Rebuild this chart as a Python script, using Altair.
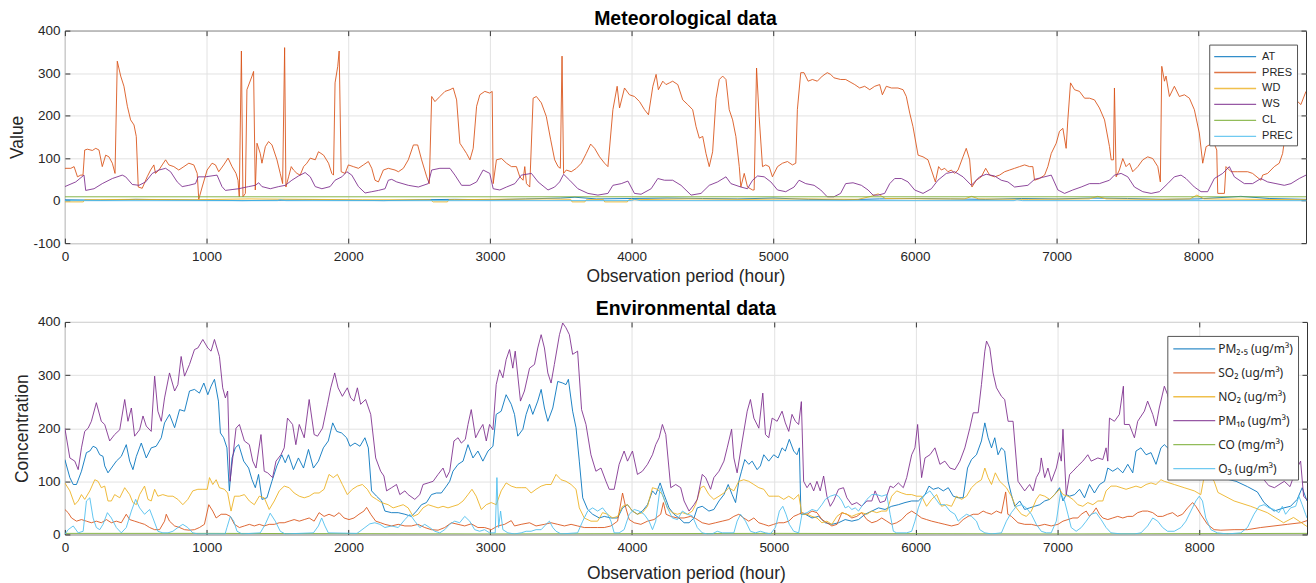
import altair as alt
import pandas as pd

FONT = "Liberation Sans, Arial, Helvetica, sans-serif"
SUB_FONT = "Noto Sans, DejaVu Sans, sans-serif"
X_MAX = 8760
X_TICKS = [0, 1000, 2000, 3000, 4000, 5000, 6000, 7000, 8000]
MET_Y_TICKS = [-100, 0, 100, 200, 300, 400]
ENV_Y_TICKS = [0, 100, 200, 300, 400]

MET_NAMES = ["AT", "PRES", "WD", "WS", "CL", "PREC"]
ENV_NAMES = ["PM\u2082.\u2085 (ug/m\u00b3)", "SO\u2082 (ug/m\u00b3)", "NO\u2082 (ug/m\u00b3)",
             "PM\u2081\u2080 (ug/m\u00b3)", "CO (mg/m\u00b3)", "O\u2083 (ug/m\u00b3)"]
COLORS = ["#0072BD", "#D95319", "#EDB120", "#7E2F8E", "#77AC30", "#4DBEEE"]
MET_WIDTHS = [1, 1, 1, 1, 1.6, 2.4]
ENV_WIDTHS = [1, 1, 1, 1, 2, 1]

# ---------------- Meteorological data: (hour, value) ----------------
AT = [(0,2),(250,1),(500,3),(750,2),(1000,1),(1250,0),(1500,1),(1750,2),(2000,1),(2250,0),(2500,2),
      (2750,3),(3000,2),(3250,4),(3500,6),(3600,8),(3750,4),(4000,5),(4250,6),(4500,5),(4750,4),(5000,6),
      (5250,3),(5500,2),(5750,4),(6000,5),(6250,4),(6500,3),(6750,5),(7000,4),(7250,6),(7500,5),(7750,3),
      (8000,4),(8300,10),(8500,5),(8760,3)]

PRES = [(0,76),(42,76),(65,80),(89,56),(112,60),(128,60),(140,119),(159,121),(194,118),(218,123),(241,119),
        (264,80),(288,107),(311,103),(335,88),(354,64),(370,328),(394,293),(417,269),(441,222),(464,190),
        (488,178),(504,151),(518,32),(546,29),(581,56),(605,72),(628,84),(640,64),(664,72),(687,84),(711,96),
        (734,84),(769,80),(804,72),(840,80),(875,88),(910,84),(934,64),(945,3),(969,32),(1004,72),(1039,88),
        (1063,84),(1086,68),(1121,84),(1152,100),(1180,80),(1208,64),(1222,48),(1231,9),(1246,352),(1257,9),
        (1274,17),(1285,261),(1321,293),(1332,304),(1344,25),(1356,135),(1379,111),(1391,88),(1415,127),
        (1438,139),(1462,131),(1497,96),(1520,64),(1537,40),(1551,360),(1560,32),(1579,56),(1598,80),(1614,72),
        (1638,64),(1661,60),(1685,80),(1708,88),(1732,100),(1767,96),(1790,115),(1826,107),(1861,88),(1884,64),
        (1896,60),(1907,277),(1926,316),(1936,352),(1950,68),(1978,64),(2001,84),(2036,80),(2072,76),(2107,84),
        (2142,92),(2166,76),(2189,48),(2213,44),(2248,72),(2283,76),(2330,72),(2354,68),(2389,76),(2424,96),
        (2460,131),(2490,131),(2518,96),(2554,56),(2572,40),(2589,245),(2612,233),(2647,245),(2683,257),
        (2718,261),(2741,265),(2765,237),(2788,135),(2812,123),(2835,111),(2859,96),(2882,123),(2906,222),
        (2929,249),(2964,257),(2999,253),(3016,257),(3023,40),(3046,96),(3082,99),(3117,88),(3152,80),
        (3187,80),(3211,56),(3234,48),(3246,80),(3258,40),(3281,32),(3305,241),(3328,245),(3363,230),
        (3398,198),(3429,143),(3457,96),(3481,80),(3497,76),(3509,340),(3520,64),(3539,72),(3574,68),
        (3610,76),(3645,88),(3680,111),(3711,133),(3739,123),(3774,103),(3809,88),(3833,80),(3868,214),
        (3898,269),(3915,218),(3950,265),(3985,249),(4020,245),(4056,233),(4091,214),(4119,202),(4150,269),
        (4173,297),(4189,261),(4220,281),(4243,273),(4267,277),(4290,281),(4326,273),(4361,237),(4396,226),
        (4431,214),(4455,174),(4478,147),(4502,151),(4525,111),(4548,80),(4572,115),(4596,241),(4619,285),
        (4643,293),(4666,285),(4689,214),(4713,190),(4736,151),(4760,80),(4771,32),(4795,64),(4818,32),
        (4854,25),(4865,25),(4882,312),(4900,198),(4924,80),(4947,84),(4971,80),(4994,56),(5030,80),(5065,88),
        (5100,92),(5135,84),(5159,88),(5170,214),(5194,301),(5217,301),(5246,281),(5276,285),(5311,281),
        (5346,293),(5381,301),(5405,297),(5428,289),(5475,285),(5511,285),(5575,273),(5610,265),(5645,269),
        (5681,261),(5716,269),(5751,273),(5770,249),(5798,269),(5834,265),(5880,265),(5916,261),(5939,245),
        (5963,206),(5986,174),(6022,107),(6057,103),(6092,96),(6116,72),(6144,44),(6167,80),(6186,72),
        (6210,76),(6233,68),(6257,72),(6280,64),(6304,72),(6339,103),(6362,123),(6386,96),(6402,32),(6433,48),
        (6468,56),(6499,76),(6527,60),(6562,56),(6597,60),(6633,68),(6668,72),(6703,76),(6738,80),(6774,84),
        (6809,80),(6832,80),(6844,48),(6879,52),(6915,60),(6938,80),(6962,111),(6997,135),(7020,163),
        (7044,170),(7067,123),(7079,190),(7098,277),(7126,261),(7161,257),(7197,241),(7232,241),(7267,237),
        (7302,218),(7338,190),(7373,127),(7385,96),(7401,96),(7408,265),(7420,56),(7443,72),(7467,99),
        (7490,80),(7514,88),(7537,68),(7573,80),(7608,96),(7643,103),(7678,99),(7714,80),(7732,44),(7742,316),
        (7761,281),(7772,293),(7796,245),(7831,269),(7866,245),(7902,249),(7937,241),(7972,214),(8007,159),
        (8031,88),(8055,127),(8078,131),(8105,140),(8130,119),(8137,17),(8184,17),(8195,80),(8231,68),
        (8278,68),(8348,68),(8383,64),(8442,48),(8454,60),(8489,64),(8536,80),(8571,88),(8595,111),(8618,166),
        (8650,200),(8689,237),(8724,226),(8760,257)]

WD = [(0,-3),(130,-3),(140,2),(500,3),(900,2),(1300,4),(1700,3),(2100,2),(2580,2),(2600,-3),(2700,-3),
      (2710,2),(3000,3),(3400,4),(3570,3),(3580,-3),(3670,-3),(3680,2),(3800,3),(3810,-3),(3970,-3),
      (3980,2),(4400,4),(4800,3),(5200,4),(5600,3),(5690,10),(5740,16),(5790,5),(6100,4),(6350,4),
      (6400,10),(6450,4),(6800,3),(7230,4),(7290,10),(7350,4),(7700,3),(7940,4),(7990,13),(8040,4),
      (8400,3),(8760,2)]

WS = [(0,33),(77,44),(135,60),(147,24),(206,28),(264,40),(335,52),(405,60),(429,56),(476,38),(523,36),
      (570,44),(617,64),(664,72),(711,76),(746,68),(793,44),(828,33),(875,36),(922,40),(941,56),(992,56),
      (1074,60),(1109,33),(1133,24),(1180,26),(1227,28),(1297,33),(1344,36),(1368,42),(1391,33),(1450,28),
      (1509,33),(1556,36),(1602,48),(1649,58),(1696,66),(1732,56),(1767,33),(1814,28),(1872,33),(1907,48),
      (1955,56),(1990,68),(2025,60),(2072,33),(2119,18),(2166,21),(2213,24),(2260,28),(2283,48),(2307,50),
      (2342,44),(2424,36),(2495,32),(2565,40),(2589,72),(2647,76),(2718,76),(2753,60),(2800,36),(2859,36),
      (2906,44),(2952,72),(2999,64),(3023,28),(3070,25),(3117,32),(3176,40),(3222,60),(3293,64),(3340,44),
      (3410,25),(3457,32),(3492,44),(3520,62),(3563,48),(3621,28),(3692,17),(3762,13),(3833,17),(3868,36),
      (3927,40),(3974,46),(4020,17),(4067,15),(4138,28),(4185,52),(4232,48),(4290,48),(4349,36),(4420,13),
      (4490,17),(4548,36),(4607,44),(4666,56),(4701,40),(4771,32),(4818,28),(4854,48),(4889,58),(4936,56),
      (4983,44),(5030,25),(5088,21),(5147,32),(5182,48),(5229,40),(5288,36),(5335,25),(5381,9),(5428,9),
      (5475,17),(5511,40),(5563,42),(5622,36),(5669,25),(5704,13),(5740,13),(5786,17),(5822,40),(5857,52),
      (5904,52),(5951,44),(5998,25),(6057,17),(6116,28),(6162,48),(6221,64),(6280,68),(6339,56),(6398,36),
      (6456,56),(6503,62),(6562,58),(6609,48),(6656,44),(6703,32),(6797,36),(6844,50),(6903,55),(6962,60),
      (7009,25),(7056,17),(7114,25),(7173,32),(7232,40),(7302,40),(7373,48),(7408,60),(7455,64),(7502,56),
      (7549,32),(7608,21),(7667,17),(7725,21),(7784,40),(7831,56),(7878,60),(7913,52),(7972,32),(8019,21),
      (8066,21),(8113,52),(8172,64),(8219,80),(8254,56),(8325,40),(8383,40),(8442,52),(8489,44),(8548,40),
      (8607,36),(8654,40),(8712,52),(8760,60)]

CL = [(0,9),(2000,9),(4000,9),(6000,9),(8760,9)]

PREC = [(0,0),(1500,0),(1520,2),(1560,0),(4000,0),(4020,3),(4060,0),(6700,0),(6720,2),(6760,0),(8760,0)]

# ---------------- Environmental data: (hour, concentration) ----------------
PM25 = [(0,141),(35,107),(59,94),(82,94),(117,119),(152,154),(176,157),(199,166),(222,163),(246,150),(269,147),
        (281,129),(304,116),(328,125),(363,138),(398,147),(433,169),(457,138),(480,122),(504,147),(539,172),
        (574,144),(609,163),(644,166),(680,182),(703,210),(738,226),(774,201),(809,235),(844,232),(879,270),
        (914,273),(949,266),(980,285),(1008,263),(1031,279),(1055,292),(1083,251),(1097,191),(1120,182),
        (1143,163),(1160,82),(1179,144),(1202,163),(1226,169),(1261,138),(1296,125),(1320,103),(1343,88),
        (1366,113),(1390,66),(1425,69),(1460,100),(1495,129),(1530,150),(1554,135),(1577,150),(1612,122),
        (1647,144),(1683,125),(1718,160),(1753,125),(1788,138),(1823,163),(1858,176),(1889,210),(1917,194),
        (1952,191),(1987,182),(2011,166),(2046,172),(2081,166),(2116,182),(2140,163),(2163,82),(2198,72),
        (2233,63),(2257,44),(2304,41),(2351,41),(2398,38),(2444,34),(2480,44),(2515,56),(2550,60),(2585,75),
        (2620,78),(2655,78),(2691,91),(2714,100),(2737,119),(2773,132),(2808,138),(2843,169),(2878,144),
        (2913,157),(2948,138),(2984,157),(3019,166),(3042,226),(3077,232),(3112,263),(3148,245),(3171,226),
        (3194,185),(3230,198),(3253,226),(3277,245),(3300,226),(3335,251),(3359,273),(3382,238),(3406,213),
        (3441,238),(3476,288),(3511,285),(3534,282),(3551,292),(3581,232),(3605,201),(3628,138),(3652,69),
        (3687,47),(3722,38),(3769,31),(3804,34),(3851,31),(3898,31),(3933,50),(3968,56),(4003,44),(4038,38),
        (4073,44),(4109,56),(4144,82),(4167,75),(4198,97),(4226,75),(4261,50),(4296,38),(4331,31),(4367,22),
        (4402,22),(4437,31),(4460,50),(4495,53),(4542,44),(4577,47),(4613,63),(4648,75),(4678,94),(4706,75),
        (4730,60),(4753,100),(4772,119),(4795,141),(4823,132),(4847,138),(4882,122),(4905,129),(4929,150),
        (4964,138),(4999,150),(5030,144),(5058,163),(5081,157),(5109,179),(5140,157),(5163,150),(5180,163),
        (5191,38),(5222,38),(5269,31),(5316,34),(5363,22),(5409,19),(5456,22),(5503,28),(5550,25),(5597,28),
        (5644,38),(5691,44),(5738,50),(5784,47),(5831,53),(5878,56),(5925,60),(5972,63),(6019,63),(6066,75),
        (6094,91),(6124,85),(6160,88),(6195,82),(6230,88),(6265,72),(6300,69),(6335,69),(6366,125),(6394,141),
        (6429,150),(6464,176),(6488,210),(6511,182),(6535,163),(6558,182),(6581,150),(6605,163),(6628,157),
        (6652,100),(6675,75),(6699,53),(6734,63),(6769,47),(6804,50),(6839,53),(6875,56),(6910,63),(6945,66),
        (6980,75),(7015,88),(7039,63),(7062,75),(7086,72),(7121,75),(7156,85),(7191,69),(7226,94),(7261,78),
        (7297,94),(7332,100),(7355,125),(7390,119),(7425,125),(7461,116),(7496,132),(7531,116),(7554,157),
        (7589,163),(7625,150),(7660,154),(7695,132),(7730,163),(7754,169),(7777,163),(7830,150),(7900,140),
        (7960,155),(8020,130),(8100,115),(8180,105),(8260,100),(8340,90),(8410,80),(8457,60),(8527,44),
        (8597,50),(8644,53),(8691,66),(8726,88),(8760,63)]

SO2 = [(0,47),(23,41),(47,31),(82,25),(117,28),(152,25),(187,22),(222,25),(257,22),(293,28),(328,22),(363,25),
       (398,22),(433,38),(457,28),(492,25),(527,22),(562,19),(598,13),(633,9),(668,9),(703,25),(715,38),
       (738,25),(774,16),(809,13),(844,9),(879,8),(914,9),(949,13),(984,19),(1015,56),(1043,44),(1067,31),
       (1102,38),(1137,38),(1167,34),(1196,19),(1231,13),(1266,16),(1301,19),(1336,16),(1371,19),(1406,16),
       (1441,19),(1477,19),(1512,22),(1547,22),(1582,25),(1617,28),(1653,25),(1688,28),(1723,31),(1758,25),
       (1793,41),(1828,34),(1863,38),(1899,34),(1934,41),(1969,31),(2004,28),(2039,31),(2074,38),(2109,44),
       (2128,51),(2157,38),(2192,25),(2227,22),(2257,19),(2304,16),(2351,19),(2398,16),(2444,16),(2491,19),
       (2538,13),(2585,9),(2632,8),(2679,13),(2726,22),(2773,19),(2820,16),(2866,20),(2913,13),(2960,13),
       (3007,9),(3054,16),(3101,19),(3148,26),(3171,16),(3218,19),(3277,22),(3323,16),(3382,19),(3429,22),
       (3476,19),(3523,16),(3570,19),(3616,16),(3663,13),(3710,13),(3757,13),(3804,13),(3851,16),(3898,25),
       (3933,78),(3956,50),(3980,28),(4015,22),(4062,19),(4109,25),(4155,28),(4202,38),(4221,60),(4240,38),
       (4273,34),(4320,31),(4367,31),(4413,34),(4448,30),(4495,22),(4542,19),(4589,22),(4636,25),(4683,28),
       (4718,34),(4753,38),(4788,31),(4823,25),(4859,31),(4894,22),(4929,19),(4964,16),(4999,19),(5034,22),
       (5070,22),(5105,25),(5140,34),(5175,38),(5198,41),(5234,38),(5269,44),(5304,41),(5339,28),(5374,22),
       (5409,16),(5445,19),(5480,41),(5515,38),(5550,31),(5585,34),(5620,41),(5656,28),(5691,22),(5726,25),
       (5761,31),(5796,25),(5831,19),(5866,22),(5902,28),(5937,38),(5972,44),(6007,38),(6042,31),(6077,28),
       (6113,25),(6160,22),(6206,19),(6253,16),(6300,19),(6335,28),(6370,34),(6406,38),(6441,38),(6476,44),
       (6500,41),(6535,38),(6570,44),(6605,40),(6635,80),(6650,38),(6675,34),(6722,22),(6769,19),(6816,19),
       (6863,16),(6910,19),(6956,16),(7003,19),(7039,25),(7074,28),(7109,31),(7144,31),(7168,38),(7203,44),
       (7226,34),(7250,41),(7273,50),(7297,38),(7320,31),(7355,28),(7390,31),(7425,34),(7461,31),(7496,34),
       (7531,34),(7566,41),(7601,44),(7636,44),(7672,41),(7707,34),(7742,34),(7777,38),(7812,41),(7847,34),
       (7882,38),(7918,50),(7953,60),(7976,53),(8011,38),(8058,19),(8105,9),(8152,8),(8246,9),(8340,9),
       (8433,13),(8527,16),(8621,19),(8715,22),(8760,26)]

NO2 = [(0,97),(35,82),(70,56),(94,63),(117,75),(140,66),(176,82),(211,103),(234,100),(257,88),(281,91),(304,63),
       (328,63),(351,75),(387,69),(422,88),(457,75),(480,60),(504,56),(527,75),(562,91),(586,66),(609,63),
       (633,85),(656,72),(691,75),(727,72),(762,72),(797,66),(832,56),(867,66),(902,82),(938,85),(973,85),
       (1004,85),(1020,107),(1043,94),(1067,103),(1090,88),(1125,85),(1148,78),(1172,44),(1196,72),(1231,72),
       (1266,75),(1301,63),(1336,56),(1371,72),(1406,69),(1441,47),(1477,63),(1512,82),(1547,91),(1582,88),
       (1617,78),(1653,72),(1688,69),(1723,72),(1758,78),(1793,78),(1828,85),(1863,113),(1893,107),(1922,113),
       (1957,94),(1992,75),(2027,85),(2063,91),(2098,94),(2133,85),(2163,72),(2198,66),(2233,60),(2280,56),
       (2315,50),(2351,53),(2386,56),(2421,50),(2456,34),(2491,38),(2526,50),(2562,56),(2597,53),(2632,50),
       (2667,53),(2702,50),(2737,53),(2773,56),(2808,63),(2843,75),(2871,85),(2901,72),(2937,47),(2972,56),
       (3007,60),(3042,56),(3077,82),(3112,97),(3148,91),(3183,88),(3218,88),(3253,88),(3288,78),(3323,85),
       (3359,91),(3394,94),(3429,94),(3464,113),(3499,103),(3534,100),(3570,94),(3605,85),(3628,50),(3663,31),
       (3710,25),(3757,25),(3792,41),(3827,38),(3863,31),(3898,34),(3933,53),(3968,56),(4003,44),(4038,38),
       (4073,41),(4109,53),(4144,88),(4179,85),(4214,75),(4249,50),(4284,41),(4320,38),(4355,41),(4390,38),
       (4425,44),(4448,56),(4484,88),(4507,91),(4542,75),(4577,66),(4613,72),(4648,78),(4683,88),(4718,82),
       (4753,100),(4788,103),(4823,100),(4859,94),(4894,88),(4929,85),(4964,72),(4999,72),(5034,72),(5070,66),
       (5105,72),(5140,66),(5175,75),(5198,38),(5234,38),(5269,34),(5304,31),(5339,22),(5374,25),(5409,19),
       (5445,34),(5480,41),(5515,38),(5550,34),(5585,38),(5620,41),(5656,38),(5691,44),(5726,41),(5761,44),
       (5796,44),(5831,72),(5866,82),(5902,78),(5937,75),(5972,75),(6007,72),(6042,72),(6077,53),(6113,66),
       (6148,75),(6183,53),(6218,56),(6253,53),(6288,72),(6324,66),(6359,72),(6394,88),(6429,97),(6464,103),
       (6488,125),(6511,107),(6535,94),(6562,116),(6593,100),(6640,88),(6675,72),(6710,50),(6746,38),(6781,34),
       (6816,44),(6851,66),(6875,75),(6910,72),(6945,66),(6980,75),(7015,85),(7039,75),(7074,72),(7109,66),
       (7144,56),(7179,53),(7214,60),(7250,56),(7285,63),(7320,63),(7343,82),(7378,91),(7414,91),(7449,88),
       (7484,85),(7519,88),(7554,91),(7589,88),(7625,94),(7660,97),(7695,94),(7730,103),(7754,100),(7824,94),
       (7894,88),(7965,82),(8011,75),(8035,109),(8070,112),(8105,100),(8132,79),(8246,63),(8363,53),(8480,41),
       (8595,22),(8665,32),(8760,15)]

PM10 = [(0,200),(35,144),(70,138),(94,122),(117,163),(140,194),(164,200),(187,213),(222,248),(257,213),(281,207),
        (316,176),(351,188),(387,197),(422,254),(445,213),(469,238),(492,185),(527,197),(551,223),(574,204),
        (609,194),(633,298),(656,232),(680,213),(703,257),(738,304),(774,270),(797,282),(820,335),(844,298),
        (879,320),(914,348),(938,351),(973,367),(1008,351),(1031,345),(1055,367),(1090,335),(1113,276),
        (1132,257),(1148,270),(1165,100),(1184,144),(1207,200),(1231,207),(1266,176),(1301,169),(1325,138),
        (1348,125),(1383,188),(1406,119),(1430,116),(1465,107),(1489,138),(1524,150),(1547,163),(1570,219),
        (1606,207),(1629,169),(1653,207),(1688,182),(1723,254),(1758,188),(1782,185),(1817,200),(1852,245),
        (1875,276),(1903,304),(1927,276),(1957,260),(1992,276),(2016,257),(2039,251),(2063,276),(2086,245),
        (2121,254),(2157,226),(2192,144),(2227,119),(2250,110),(2269,82),(2304,88),(2339,94),(2362,75),
        (2398,82),(2421,75),(2468,66),(2503,75),(2526,94),(2562,97),(2597,100),(2632,113),(2667,125),
        (2691,107),(2714,119),(2744,176),(2773,182),(2796,172),(2824,179),(2843,207),(2866,235),(2897,182),
        (2925,197),(2948,207),(2972,176),(2995,207),(3019,197),(3042,282),(3066,310),(3089,295),(3112,329),
        (3136,348),(3159,313),(3176,345),(3213,251),(3241,270),(3277,313),(3312,320),(3335,351),(3359,376),
        (3382,351),(3406,304),(3429,285),(3452,320),(3488,376),(3511,398),(3534,389),(3558,376),(3581,339),
        (3616,345),(3644,235),(3675,207),(3710,150),(3745,119),(3781,125),(3816,100),(3839,85),(3874,85),
        (3909,132),(3944,157),(3968,138),(4003,157),(4038,113),(4073,119),(4109,132),(4144,150),(4167,169),
        (4191,182),(4214,207),(4238,188),(4273,88),(4308,94),(4343,88),(4367,63),(4402,44),(4437,56),(4460,66),
        (4495,113),(4519,107),(4554,85),(4577,107),(4613,119),(4648,138),(4671,163),(4702,198),(4718,144),
        (4741,116),(4777,176),(4812,232),(4835,254),(4859,219),(4894,200),(4922,266),(4941,188),(4964,182),
        (4988,219),(5023,213),(5058,232),(5081,210),(5105,194),(5128,226),(5152,213),(5175,207),(5194,250),
        (5210,100),(5234,88),(5257,97),(5281,82),(5304,100),(5327,82),(5351,110),(5374,72),(5398,53),(5421,63),
        (5456,85),(5491,88),(5515,69),(5550,56),(5585,60),(5620,53),(5656,63),(5691,63),(5714,82),(5749,60),
        (5784,63),(5820,91),(5843,88),(5878,97),(5913,88),(5937,107),(5972,150),(5995,163),(6014,207),
        (6042,107),(6066,144),(6101,150),(6136,163),(6171,132),(6206,138),(6242,125),(6277,122),(6312,138),
        (6347,163),(6382,200),(6406,229),(6441,229),(6464,282),(6488,345),(6500,364),(6523,351),(6546,304),
        (6570,276),(6605,260),(6628,254),(6652,213),(6687,213),(6722,100),(6769,82),(6804,94),(6828,82),
        (6851,107),(6875,119),(6886,144),(6910,107),(6933,125),(6957,100),(6992,125),(7015,154),(7027,138),
        (7039,198),(7062,75),(7086,113),(7109,119),(7144,129),(7179,138),(7214,150),(7238,138),(7285,144),
        (7320,141),(7343,163),(7355,138),(7367,219),(7402,213),(7437,226),(7465,279),(7472,207),(7507,207),
        (7543,182),(7566,213),(7613,232),(7636,251),(7672,226),(7695,204),(7718,238),(7754,279),(7777,263),
        (7800,240),(7850,225),(7900,250),(7950,205),(8000,185),(8050,215),(8100,175),(8150,195),(8200,165),
        (8250,180),(8300,150),(8350,160),(8400,125),(8450,105),(8490,92),(8530,88),(8570,95),(8600,100),
        (8640,90),(8680,120),(8715,138),(8736,72),(8760,65)]

CO = [(0,2),(1000,2),(2000,1.5),(3000,1),(4000,1.5),(5000,2),(6000,1.5),(7000,1),(8000,1.5),(8760,2)]

O3 = [(0,0),(23,9),(59,16),(94,3),(129,6),(152,63),(176,69),(199,31),(222,13),(246,9),(269,19),(300,41),(328,31),
      (363,13),(398,3),(433,13),(469,44),(499,66),(527,50),(562,38),(598,47),(621,31),(656,6),(691,3),(727,3),
      (762,6),(797,13),(832,19),(867,13),(902,3),(938,1),(1130,1),(1143,13),(1167,34),(1191,25),(1214,6),
      (1249,1),(1378,3),(1413,19),(1448,40),(1484,25),(1519,6),(1554,1),(1753,3),(1788,16),(1811,31),(1834,16),
      (1858,3),(2060,2),(2081,6),(2116,13),(2151,20),(2186,22),(2222,19),(2257,13),(2304,16),(2351,13),
      (2398,28),(2433,38),(2468,25),(2503,13),(2538,19),(2573,13),(2609,6),(2644,3),(2679,9),(2714,19),
      (2749,25),(2784,22),(2820,34),(2855,25),(2890,9),(2925,6),(2960,9),(2995,3),(3035,3),(3047,107),
      (3059,13),(3073,44),(3089,9),(3124,3),(3171,1),(3218,3),(3253,6),(3288,6),(3323,9),(3359,9),(3394,19),
      (3417,25),(3441,13),(3464,6),(3499,1),(3616,3),(3652,25),(3687,44),(3722,50),(3757,44),(3792,50),
      (3827,38),(3851,25),(3874,3),(3909,3),(3944,9),(3980,38),(4015,47),(4050,44),(4085,38),(4120,25),
      (4144,9),(4167,25),(4198,88),(4214,75),(4249,50),(4284,31),(4320,28),(4355,44),(4390,38),(4425,35),
      (4460,13),(4495,3),(4530,1),(4565,1),(4601,6),(4636,3),(4718,3),(4741,25),(4765,38),(4800,25),(4835,6),
      (4870,3),(4905,6),(4941,3),(4976,1),(5011,13),(5039,44),(5063,53),(5086,38),(5109,19),(5140,6),(5175,3),
      (5198,38),(5234,41),(5269,47),(5304,44),(5339,56),(5363,66),(5398,72),(5433,75),(5456,72),(5480,63),
      (5503,50),(5527,53),(5550,47),(5574,50),(5597,44),(5620,53),(5656,66),(5691,75),(5726,75),(5761,72),
      (5796,75),(5820,38),(5843,6),(5866,3),(5937,3),(5972,6),(5995,25),(6019,50),(6042,66),(6066,75),
      (6101,82),(6136,69),(6171,56),(6206,56),(6242,44),(6277,38),(6300,25),(6324,31),(6359,38),(6394,34),
      (6429,25),(6452,9),(6488,3),(6535,1),(6605,3),(6640,25),(6675,41),(6710,53),(6746,56),(6781,50),
      (6816,38),(6851,19),(6886,6),(6921,3),(6956,3),(6992,25),(7022,78),(7050,63),(7074,38),(7097,13),
      (7132,6),(7168,13),(7203,25),(7238,38),(7273,41),(7308,28),(7343,13),(7378,3),(7449,1),(7543,1),
      (7589,3),(7636,16),(7672,31),(7707,25),(7742,13),(7777,6),(7824,6),(7871,13),(7906,25),(7941,44),
      (7976,63),(8000,72),(8023,63),(8046,31),(8082,9),(8128,3),(8199,1),(8293,3),(8340,13),(8386,38),
      (8422,53),(8457,56),(8492,50),(8527,47),(8562,41),(8586,53),(8609,38),(8644,50),(8680,53),(8703,72),
      (8726,56),(8750,38),(8760,31)]


def long_table(names, series):
    rows = []
    for i, (name, pts) in enumerate(zip(names, series)):
        for h, v in pts:
            rows.append({"series": name, "idx": i, "hour": h, "value": v})
    return pd.DataFrame(rows)


met_df = long_table(MET_NAMES, [AT, PRES, WD, WS, CL, PREC])
env_df = long_table(ENV_NAMES, [PM25, SO2, NO2, PM10, CO, O3])

LEGEND_LINE = "M-1,0H5"


def panel(df, names, widths, title, title_offset, ytitle, ydomain, yticks, w, h, lx, ly, row_pad, leg_pad,
          lab_off, lab_pad, tit_pad, leg_font, leg_size):
    xs = alt.Scale(domain=[0, X_MAX], nice=False, zero=False)
    ys = alt.Scale(domain=ydomain, nice=False, zero=False)
    lines = alt.Chart(df).mark_line(clip=True, opacity=0.88).encode(
        x=alt.X("hour:Q", scale=xs,
                axis=alt.Axis(values=X_TICKS, title="Observation period (hour)", labelExpr="'' + datum.value",
                              labelFlush=False, grid=True, domain=False, ticks=True, tickSize=5, offset=-5,
                              labelPadding=lab_pad, titlePadding=tit_pad)),
        y=alt.Y("value:Q", scale=ys,
                axis=alt.Axis(values=yticks, title=ytitle, labelExpr="'' + datum.value", grid=True,
                              domain=False, ticks=True, tickSize=5, offset=-5, labelPadding=5,
                              titlePadding=6)),
        color=alt.Color("series:N", scale=alt.Scale(domain=names, range=COLORS), sort=names,
                        legend=alt.Legend(title=None, orient="none", legendX=lx, legendY=ly,
                                          symbolType=LEGEND_LINE, symbolSize=196, symbolStrokeWidth=1.3,
                                          symbolOpacity=0.8,
                                          labelFontSize=leg_size, labelFont=leg_font, labelColor="#262626",
                                          labelOffset=lab_off, rowPadding=row_pad, padding=leg_pad,
                                          strokeColor="#555555", fillColor="white", cornerRadius=0,
                                          labelLimit=300)),
        strokeWidth=alt.StrokeWidth("series:N", scale=alt.Scale(domain=names, range=widths), legend=None),
        order=alt.Order("hour:Q"),
    )
    frame = alt.Chart(df).mark_line(opacity=0, strokeWidth=0).encode(
        x=alt.X("hour:Q", scale=xs,
                axis=alt.Axis(orient="top", values=X_TICKS, labels=False, title=None, grid=False,
                              domain=False, ticks=True, tickSize=5, offset=-5)),
        y=alt.Y("value:Q", scale=ys,
                axis=alt.Axis(orient="right", values=yticks, labels=False, title=None, grid=False,
                              domain=False, ticks=True, tickSize=5, offset=-5, minExtent=0)),
        detail="series:N",
    )
    return alt.layer(lines, frame).resolve_axis(x="independent", y="independent").properties(
        width=w, height=h,
        title=alt.TitleParams(title, fontSize=19.5, fontWeight="bold", font=FONT, color="#000000",
                              offset=title_offset, anchor="middle"))


top = panel(met_df, MET_NAMES, MET_WIDTHS, "Meteorological data", -6, "Value", [-100, 400], MET_Y_TICKS,
            1244, 213, 1147, 14, 3, 4, 33, 6, 5, FONT, 11)
bottom = panel(env_df, ENV_NAMES, ENV_WIDTHS, "Environmental data", -4.5, "Concentration", [0, 400],
               ENV_Y_TICKS, 1245, 213, 1105, 14, 10, 5, 30, 6, 11, SUB_FONT, 12)

chart = alt.vconcat(top, bottom, spacing=12).resolve_scale(color="independent").properties(
    padding=0
).configure(font=FONT).configure_view(stroke="#333333", strokeWidth=1).configure_axis(
    labelFont=FONT, titleFont=FONT, labelFontSize=13.5, titleFontSize=17.5, titleFontWeight="normal",
    labelColor="#262626", titleColor="#262626", gridColor="#e2e2e2", gridWidth=1,
    tickColor="#333333", tickWidth=1,
)

chart.save("out.html", embed_options={"renderer": "svg", "actions": False})
